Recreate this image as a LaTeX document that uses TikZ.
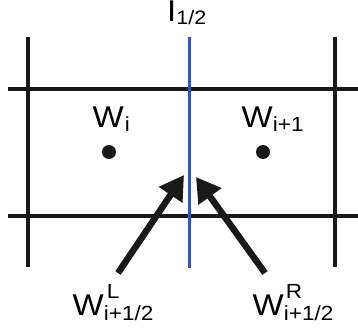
\documentclass[tikz,border=0pt]{standalone}
\usepackage{fontspec}
\setmainfont{Liberation Sans}[FakeStretch=1.1]
\usetikzlibrary{arrows.meta}
\definecolor{ifblue}{RGB}{55,85,170}
\newcommand\bigf{\fontsize{30}{30}\selectfont}
\newcommand\smf{\fontsize{20.5}{20.5}\selectfont}
\begin{document}
\begin{tikzpicture}[x=1pt,y=-1pt,
  grid/.style={line width=3.5pt,black!90},
  iface/.style={line width=3pt,ifblue},
  lbl/.style={inner sep=0pt,anchor=base west,font=\bigf},
  ptr/.style={line width=6.5pt,black!90,-{Triangle[length=24pt,width=27pt]}},
  cell/.style={circle,fill=black!90,inner sep=0pt,minimum size=14pt}]
\useasboundingbox (0,0) rectangle (358,331);
% grid
\draw[grid] (28,37) -- (28,267);
\draw[grid] (335,37) -- (335,267);
\draw[grid] (8,89) -- (358,89);
\draw[grid] (8,216) -- (358,216);
% interface
\draw[iface] (189,37) -- (189,268);
% labels
\node[lbl] (T) at (167,22) {I\raisebox{-3pt}{\fontsize{19.5}{19.5}\selectfont 1/2}};
\node[lbl] (Wi) at (92.5,128) {W\hspace{1pt}\raisebox{-4pt}{\smf i}};
\node[lbl] (Wip) at (241.5,128) {W\raisebox{-4pt}{\smf i+1}};
\node[lbl] (WL) at (72.5,315) {W\rlap{\hspace{3pt}\raisebox{17pt}{\smf L}}\raisebox{-5pt}{\smf i+1/2}};
\node[lbl] (WR) at (252.5,315) {W\rlap{\hspace{2pt}\raisebox{17pt}{\smf R}}\raisebox{-5pt}{\smf i+1/2}};
% cell centres
\node[cell] (ci) at (109,152) {};
\node[cell] (cip) at (263,152) {};
% arrows
\coordinate (tl) at (118,273);
\coordinate (hl) at (184,175);
\coordinate (tr) at (265,273);
\coordinate (hr) at (196,177);
\draw[ptr] (tl) -- (hl);
\draw[ptr] (tr) -- (hr);
\end{tikzpicture}
\end{document}
